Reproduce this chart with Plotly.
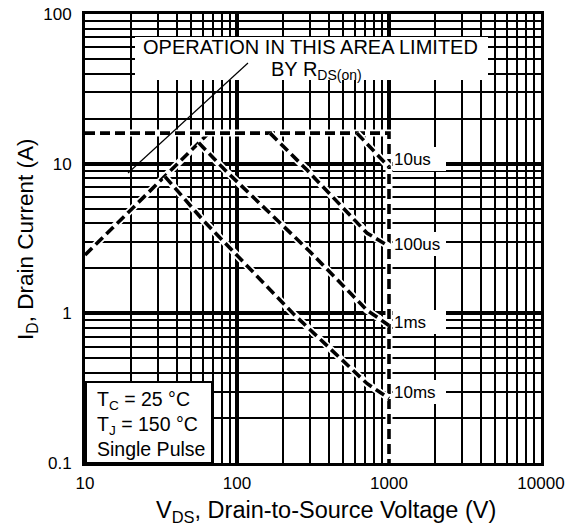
import plotly.graph_objects as go

# ---------------- data ----------------
x_ticks = [10, 100, 1000, 10000]
x_tick_text = ["10", "100", "1000", "10000"]
y_ticks = [0.1, 1, 10, 100]
y_tick_text = ["0.1", "1", "10", "100"]

rds_v = [10, 65]
rds_i = [2.45, 16]

limit_v = [10, 1000, 1000]
limit_i = [16, 16, 0.1]

us10_v = [615, 1000]
us10_i = [16, 9.5]

us100_v = [165, 288, 716, 1000]
us100_i = [16, 9.1, 3.44, 2.8]

ms1_v = [56, 83, 300, 716, 1000]
ms1_i = [13.8, 9.1, 2.6, 1.05, 0.83]

ms10_v = [33.6, 59.7, 233, 716, 1000]
ms10_i = [8.2, 4.2, 1.0, 0.34, 0.27]

curve_names = ["RDS(on) limit", "Max current", "10us", "100us", "1ms", "10ms"]
curve_v = [rds_v, limit_v, us10_v, us100_v, ms1_v, ms10_v]
curve_i = [rds_i, limit_i, us10_i, us100_i, ms1_i, ms10_i]

pulse_labels = ["10us", "100us", "1ms", "10ms"]
pulse_label_y = [159, 244, 322, 392]  # pixel rows of the labels

# ---------------- layout helpers ----------------
# page body has an 8px margin, so the figure is drawn 8px right/down
OFF = 8
W, H = 582 - OFF, 531 - OFF
L, R, T, B = 85 - OFF, 41, 14 - OFF, 68
PW, PH = W - L - R, H - T - B   # 456 x 449
PLOT_LEFT, PLOT_BOTTOM = 85, 463  # in screen pixels


def px_x(px):
    return (px - PLOT_LEFT) / PW


def px_y(py):
    return (PLOT_BOTTOM - py) / PH


FONT = "Liberation Sans, Arial, sans-serif"

fig = go.Figure()

for name, v, i in zip(curve_names, curve_v, curve_i):
    fig.add_trace(go.Scatter(x=v, y=i, mode="lines", showlegend=False, hoverinfo="skip",
                             line=dict(color="white", width=7)))
    fig.add_trace(go.Scatter(x=v, y=i, mode="lines", name=name, showlegend=False,
                             line=dict(color="black", width=3.6, dash="10px,5px")))

minor_x = [m * 10 ** k for k in range(1, 4) for m in range(2, 10)]
minor_y = [m * 10.0 ** k for k in range(-1, 2) for m in range(2, 10)]

shapes = []
annotations = []

# white area behind the RDS(on) note, plus its pointer line
shapes.append(dict(type="rect", xref="paper", yref="paper", layer="above",
                   x0=px_x(135), x1=px_x(488), y0=px_y(80), y1=px_y(37),
                   fillcolor="white", line=dict(width=0)))
shapes.append(dict(type="line", xref="paper", yref="paper", layer="above",
                   x0=px_x(128), y0=px_y(173), x1=px_x(248), y1=px_y(63),
                   line=dict(color="black", width=1.2)))
annotations.append(dict(xref="paper", yref="paper", x=px_x(310), y=px_y(47),
                        text="OPERATION IN THIS AREA LIMITED", showarrow=False,
                        xanchor="center", yanchor="middle",
                        font=dict(size=20, color="black", family=FONT)))
annotations.append(dict(xref="paper", yref="paper", x=px_x(316), y=px_y(70),
                        text="BY R<sub>DS(on)</sub>", showarrow=False,
                        xanchor="center", yanchor="middle",
                        font=dict(size=20, color="black", family=FONT)))

# pulse labels
for lab, py in zip(pulse_labels, pulse_label_y):
    shapes.append(dict(type="rect", xref="paper", yref="paper", layer="above",
                       x0=px_x(393), x1=px_x(446), y0=px_y(py + 12), y1=px_y(py - 12),
                       fillcolor="white", line=dict(width=0)))
    annotations.append(dict(xref="paper", yref="paper", x=px_x(392), y=px_y(py),
                            text=lab, showarrow=False, xanchor="left", yanchor="middle",
                            font=dict(size=17, color="black", family=FONT)))

# conditions box
shapes.append(dict(type="rect", xref="paper", yref="paper", layer="above",
                   x0=px_x(86), x1=px_x(212), y0=0, y1=px_y(382),
                   fillcolor="white", line=dict(color="black", width=2)))
for txt, py in zip(["T<sub>C</sub> = 25 °C", "T<sub>J</sub> = 150 °C", "Single Pulse"],
                   [400, 425, 449]):
    annotations.append(dict(xref="paper", yref="paper", x=px_x(95), y=px_y(py),
                            text=txt, showarrow=False, xanchor="left", yanchor="middle",
                            font=dict(size=19.5, color="black", family=FONT)))

# axis titles
annotations.append(dict(xref="paper", yref="paper", x=px_x(326), y=px_y(511),
                        text="V<sub>DS</sub>, Drain-to-Source Voltage (V)", showarrow=False,
                        xanchor="center", yanchor="middle",
                        font=dict(size=23.5, color="black", family=FONT)))
annotations.append(dict(xref="paper", yref="paper", x=px_x(27), y=px_y(240),
                        text="I<sub>D</sub>, Drain Current (A)", showarrow=False,
                        textangle=-90, xanchor="center", yanchor="middle",
                        font=dict(size=22.5, color="black", family=FONT)))

axis_common = dict(
    type="log", showgrid=True, gridcolor="black", gridwidth=3.5,
    zeroline=False, showline=True, linecolor="black", linewidth=3, mirror=True,
    ticks="", tickfont=dict(size=17, color="black", family=FONT),
    ticklabeloverflow="allow",
)

fig.update_layout(
    width=W, height=H,
    margin=dict(l=L, r=R, t=T, b=B),
    paper_bgcolor="white", plot_bgcolor="white",
    font=dict(family=FONT, color="black"),
    shapes=shapes, annotations=annotations,
    xaxis=dict(**axis_common, range=[1, 4], tickvals=x_ticks, ticktext=x_tick_text,
               minor=dict(tickvals=minor_x, showgrid=True, gridcolor="black", gridwidth=1.8),
               ticklabelstandoff=3, automargin=False),
    yaxis=dict(**axis_common, range=[-1, 2], tickvals=y_ticks, ticktext=y_tick_text,
               minor=dict(tickvals=minor_y, showgrid=True, gridcolor="black", gridwidth=1.8),
               ticklabelstandoff=7, automargin=False),
)

fig.write_html("out.html")
